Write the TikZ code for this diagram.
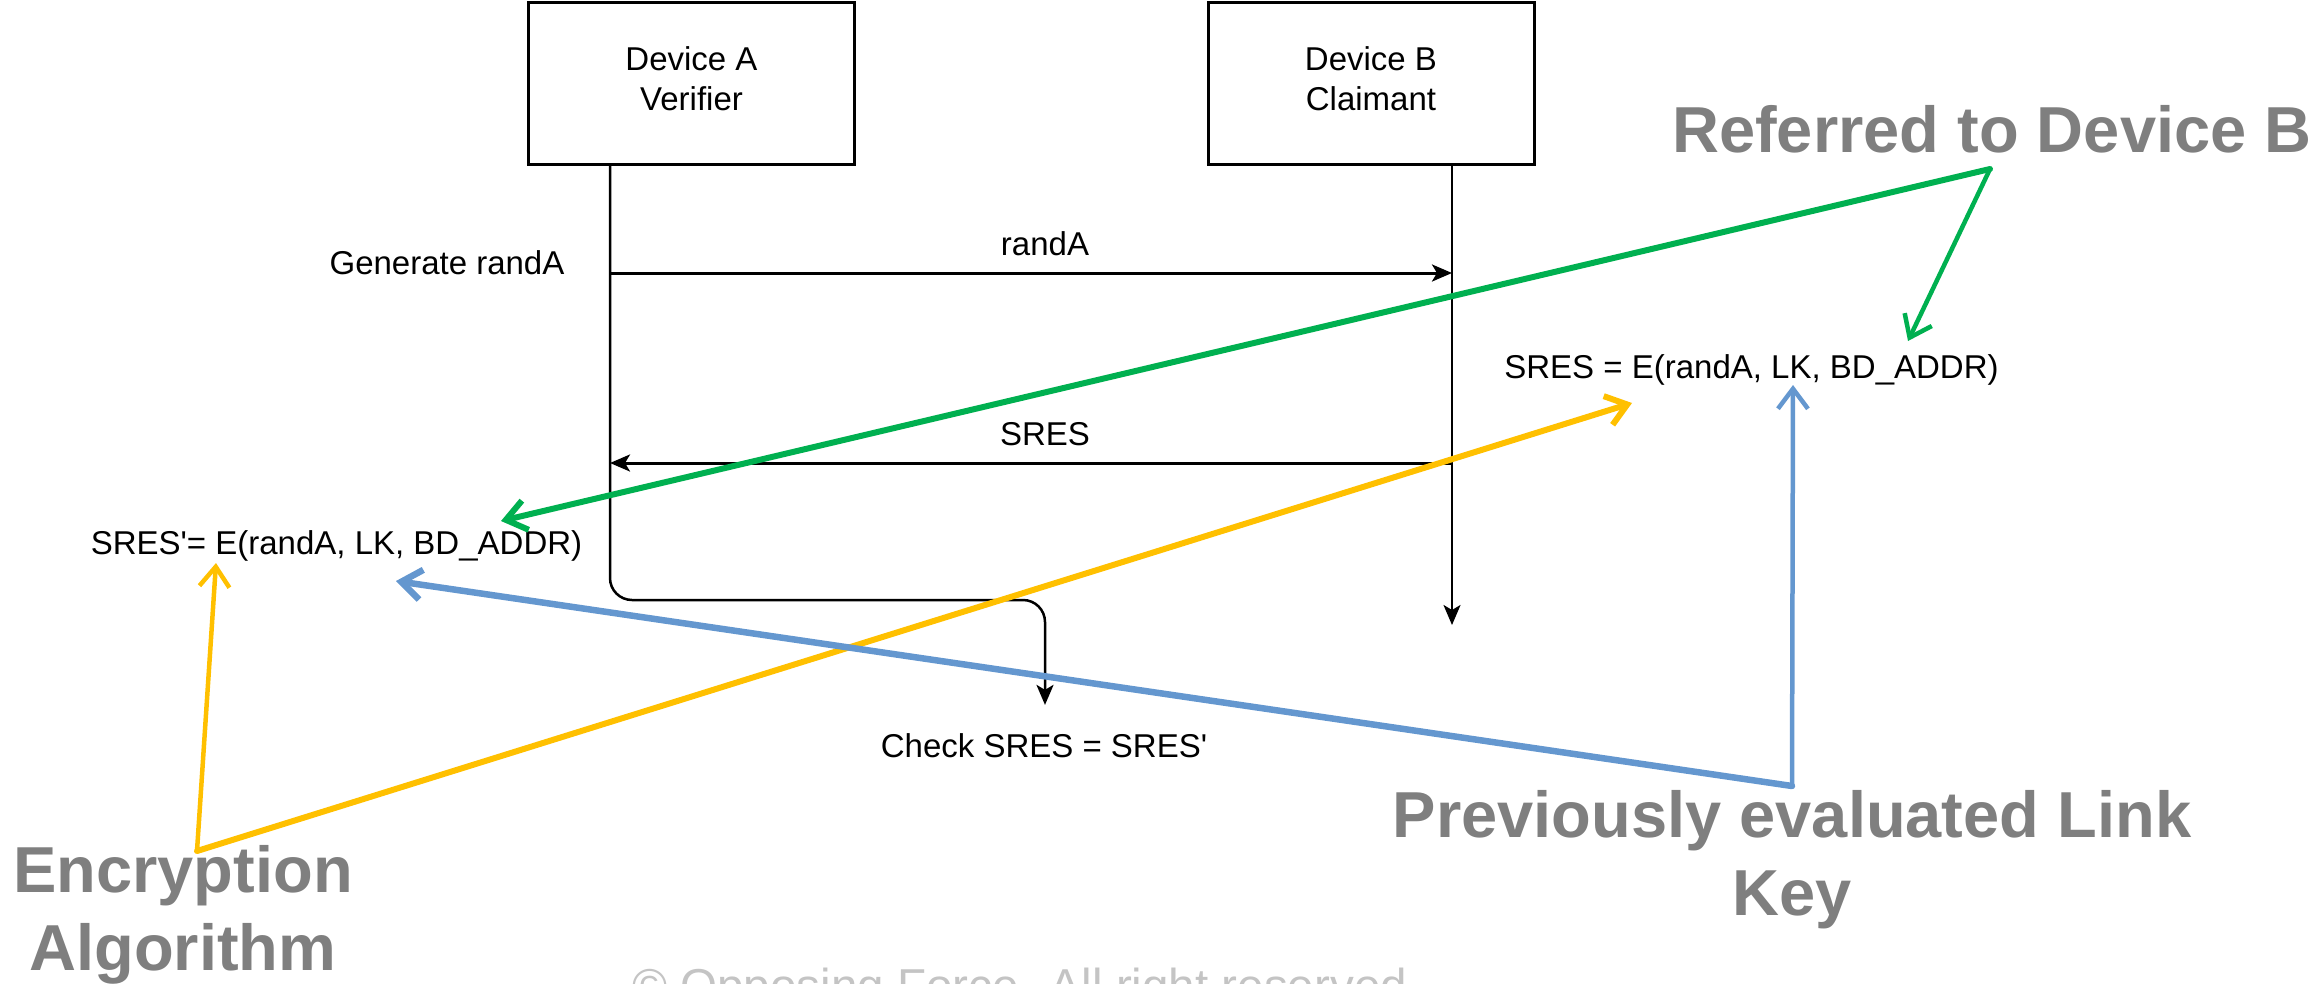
\documentclass[tikz,border=0pt]{standalone}
\usepackage{fontspec}
\setmainfont{Liberation Sans}
\usetikzlibrary{arrows.meta,calc}
\definecolor{grn}{HTML}{00B050}
\definecolor{ylw}{HTML}{FFC000}
\definecolor{blu}{HTML}{6497CF}
\definecolor{lbl}{HTML}{7F7F7F}
\definecolor{wmk}{HTML}{C4C4C4}
\begin{document}
\begin{tikzpicture}[x=1pt,y=-1pt,
  dev/.style={draw=black, line width=3pt, minimum width=326pt, minimum height=162pt, inner sep=0pt, align=center, font=\fontsize{33}{40}\selectfont},
  txt/.style={font=\fontsize{33}{40}\selectfont, inner sep=0pt, anchor=base},
  big/.style={font=\fontsize{65}{78}\selectfont\bfseries, text=lbl, inner sep=0pt, align=center},
  life/.style={line width=2.5pt, draw=black},
  msg/.style={line width=3pt, draw=black, -{Stealth[length=20pt,width=17pt,inset=5pt]}},
  hl/.style={line cap=round, -{Straight Barb[length=20pt,width=30pt]}}
]
\useasboundingbox (0,0) rectangle (2311,983);
\clip (0,0) rectangle (2311,983);

% participants
\node[dev] (A) at (691.5,83) {Device A\\Verifier\rule[-8pt]{0pt}{8pt}};
\node[dev] (B) at (1371,83) {Device B\\Claimant\rule[-8pt]{0pt}{8pt}};

% labels
\node[txt] (gen) at (447,274) {Generate randA};
\node[txt] (lrand) at (1045,255) {randA};
\node[txt] (lsres) at (1045,445) {SRES};
\node[txt] (sresp) at (336.5,554) {SRES\textquotesingle= E(randA, LK, BD\_ADDR)};
\node[txt] (sres) at (1751.5,378) {SRES = E(randA, LK, BD\_ADDR)};
\node[txt] (chk) at (1044,757) {Check SRES = SRES\textquotesingle};

% lifelines
\coordinate (la0) at ($(A.south)+(-81.5,0)$);
\coordinate (lb0) at ($(B.south)+(81,0)$);
\coordinate (lb1) at (1452,625);
\coordinate (turn) at (1045,600);
\coordinate (chktip) at ($(chk.north)+(1,-28)$);
\draw[life, -{Stealth[length=20pt,width=17pt,inset=5pt]}] (lb0) -- (lb1);
\draw[life, rounded corners=22pt, -{Stealth[length=20pt,width=17pt,inset=5pt]}] (la0) |- (turn) -- (chktip);

% messages
\coordinate (ra) at (610,273);
\coordinate (rb) at (1452,273);
\coordinate (sa) at (610,463);
\coordinate (sb) at (1452,463);
\draw[msg] (ra) -- (rb);
\draw[msg] (sb) -- (sa);

% annotation labels
\node[big, anchor=base west] (ref) at (1672,152) {Referred to Device B};
\node[big, anchor=north] (prev) at (1792,790) {Previously evaluated Link\\Key};
\node[big, anchor=north] (enc) at (183,845) {Encryption\\Algorithm};
\node[font=\fontsize{47.6}{50}\selectfont, text=wmk, anchor=base west, inner sep=0pt] (wm) at (632,1002) {© Opposing Force. All right reserved};

% highlight arrows
\coordinate (gv) at (1990,169);
\coordinate (gt1) at (501,521);
\coordinate (gt2) at (1908,341);
\draw[hl, draw=grn, line width=6pt] (gv) -- (gt1);
\draw[hl, draw=grn, line width=4.5pt] (gv) -- (gt2);

\coordinate (yv) at (197,851);
\coordinate (yt1) at (216,563);
\coordinate (yt2) at (1632,403);
\draw[hl, draw=ylw, line width=4.5pt] (yv) -- (yt1);
\draw[hl, draw=ylw, line width=6pt] (yv) -- (yt2);

\coordinate (bv) at (1792,786);
\coordinate (bt1) at (1793,385);
\coordinate (bt2) at (396,581);
\draw[hl, draw=blu, line width=4.5pt] (bv) -- (bt1);
\draw[hl, draw=blu, line width=6.5pt] (bv) -- (bt2);
\end{tikzpicture}
\end{document}
